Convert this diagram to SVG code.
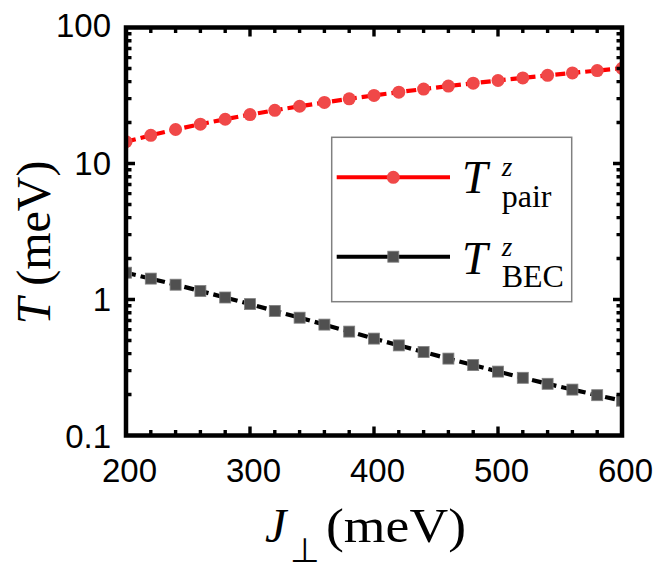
<svg xmlns="http://www.w3.org/2000/svg" xmlns:xlink="http://www.w3.org/1999/xlink" width="664" height="568" viewBox="0 0 664 568">
<style>
.tick{stroke:#000;stroke-width:3.4;fill:none}
.frame{stroke:#000;stroke-width:4.5;fill:none}
.num{font-family:"Liberation Sans",Arial,sans-serif;font-size:33px;fill:#000}
.ser{font-family:"Liberation Serif","Times New Roman",serif;fill:#000}
.it{font-style:italic}
.redline{stroke:#ff0000;stroke-width:4.2;fill:none;stroke-dasharray:10 5}
.blkline{stroke:#000;stroke-width:4.2;fill:none;stroke-dasharray:10 5}
.rdot{fill:#f04848}
.bsq{fill:#505050;stroke:#808080;stroke-width:0.8}
</style>
<defs>
<clipPath id="plotclip"><rect x="126" y="27.5" width="496" height="408"/></clipPath>
<circle id="mc" r="6.5" class="rdot"/>
<rect id="ms" x="-5.5" y="-5.5" width="11" height="11" class="bsq"/>
</defs>
<rect width="664" height="568" fill="#fff"/>
<g id="connectors" clip-path="url(#plotclip)">
<g id="series-pair">
<polyline class="redline" points="126,141.7 150.8,135.33 175.6,129.52 200.4,124.18 225.2,119.23 250,114.62 274.8,110.31 299.6,106.26 324.4,102.44 349.2,98.83 374,95.40 398.8,92.14 423.6,89.04 448.4,86.07 473.2,83.22 498,80.50 522.8,77.88 547.6,75.36 572.4,72.93 597.2,70.58 622,68.32"/>
<use xlink:href="#mc" x="126" y="141.7"/><use xlink:href="#mc" x="150.8" y="135.33"/><use xlink:href="#mc" x="175.6" y="129.52"/><use xlink:href="#mc" x="200.4" y="124.18"/><use xlink:href="#mc" x="225.2" y="119.23"/><use xlink:href="#mc" x="250" y="114.62"/><use xlink:href="#mc" x="274.8" y="110.31"/><use xlink:href="#mc" x="299.6" y="106.26"/><use xlink:href="#mc" x="324.4" y="102.44"/><use xlink:href="#mc" x="349.2" y="98.83"/><use xlink:href="#mc" x="374" y="95.40"/><use xlink:href="#mc" x="398.8" y="92.14"/><use xlink:href="#mc" x="423.6" y="89.04"/><use xlink:href="#mc" x="448.4" y="86.07"/><use xlink:href="#mc" x="473.2" y="83.22"/><use xlink:href="#mc" x="498" y="80.50"/><use xlink:href="#mc" x="522.8" y="77.88"/><use xlink:href="#mc" x="547.6" y="75.36"/><use xlink:href="#mc" x="572.4" y="72.93"/><use xlink:href="#mc" x="597.2" y="70.58"/><use xlink:href="#mc" x="622" y="68.32"/>
</g>
<g id="series-bec">
<polyline class="blkline" points="126,272.7 150.8,278.6 175.6,284.7 200.4,291.0 225.2,297.5 250,304.1 274.8,310.9 299.6,317.7 324.4,324.6 349.2,331.6 374,338.6 398.8,345.4 423.6,352.0 448.4,358.6 473.2,365.1 498,371.6 522.8,377.8 547.6,383.8 572.4,389.6 597.2,395.2 622,400.7"/>
<use xlink:href="#ms" x="126" y="272.7"/><use xlink:href="#ms" x="150.8" y="278.6"/><use xlink:href="#ms" x="175.6" y="284.7"/><use xlink:href="#ms" x="200.4" y="291.0"/><use xlink:href="#ms" x="225.2" y="297.5"/><use xlink:href="#ms" x="250" y="304.1"/><use xlink:href="#ms" x="274.8" y="310.9"/><use xlink:href="#ms" x="299.6" y="317.7"/><use xlink:href="#ms" x="324.4" y="324.6"/><use xlink:href="#ms" x="349.2" y="331.6"/><use xlink:href="#ms" x="374" y="338.6"/><use xlink:href="#ms" x="398.8" y="345.4"/><use xlink:href="#ms" x="423.6" y="352.0"/><use xlink:href="#ms" x="448.4" y="358.6"/><use xlink:href="#ms" x="473.2" y="365.1"/><use xlink:href="#ms" x="498" y="371.6"/><use xlink:href="#ms" x="522.8" y="377.8"/><use xlink:href="#ms" x="547.6" y="383.8"/><use xlink:href="#ms" x="572.4" y="389.6"/><use xlink:href="#ms" x="597.2" y="395.2"/><use xlink:href="#ms" x="622" y="400.7"/>
</g>
</g>
<g id="legend">
<rect x="331.7" y="137.3" width="240" height="164.4" fill="#fff" stroke="#808080" stroke-width="1.5"/>
<line x1="336.7" y1="177.3" x2="450" y2="177.3" stroke="#ff0000" stroke-width="4"/>
<use xlink:href="#mc" x="393.3" y="177.3"/>
<line x1="336.7" y1="256.7" x2="450" y2="256.7" stroke="#000" stroke-width="4"/>
<use xlink:href="#ms" x="393.3" y="256.7"/>
<text class="ser"><tspan class="it" x="462" y="192.7" font-size="46">T</tspan><tspan class="it" x="501.7" y="175.5" font-size="27">z</tspan><tspan x="501.7" y="207.3" font-size="32">pair</tspan></text>
<text class="ser"><tspan class="it" x="462" y="274" font-size="46">T</tspan><tspan class="it" x="501.7" y="255.5" font-size="27">z</tspan><tspan x="501.7" y="286.7" font-size="32">BEC</tspan></text>
</g>
<g id="axes">
<rect class="frame" x="126" y="27.5" width="496" height="408"/>
<path class="tick" d="M126 299.5H135M126 163.5H135M622 299.5H613M622 163.5H613M250 435.5V426.5M374 435.5V426.5M498 435.5V426.5M250 27.5V36.5M374 27.5V36.5M498 27.5V36.5"/>
<path class="tick" d="M126 394.56H131.5M126 370.61H131.5M126 353.62H131.5M126 340.44H131.5M126 329.67H131.5M126 320.57H131.5M126 312.68H131.5M126 305.72H131.5M126 258.56H131.5M126 234.61H131.5M126 217.62H131.5M126 204.44H131.5M126 193.67H131.5M126 184.57H131.5M126 176.68H131.5M126 169.72H131.5M126 122.56H131.5M126 98.61H131.5M126 81.62H131.5M126 68.44H131.5M126 57.67H131.5M126 48.57H131.5M126 40.68H131.5M126 33.72H131.5"/>
<path class="tick" d="M622 394.56H616.5M622 370.61H616.5M622 353.62H616.5M622 340.44H616.5M622 329.67H616.5M622 320.57H616.5M622 312.68H616.5M622 305.72H616.5M622 258.56H616.5M622 234.61H616.5M622 217.62H616.5M622 204.44H616.5M622 193.67H616.5M622 184.57H616.5M622 176.68H616.5M622 169.72H616.5M622 122.56H616.5M622 98.61H616.5M622 81.62H616.5M622 68.44H616.5M622 57.67H616.5M622 48.57H616.5M622 40.68H616.5M622 33.72H616.5"/>
<path class="tick" d="M150.8 435.5V430M175.6 435.5V430M200.4 435.5V430M225.2 435.5V430M274.8 435.5V430M299.6 435.5V430M324.4 435.5V430M349.2 435.5V430M398.8 435.5V430M423.6 435.5V430M448.4 435.5V430M473.2 435.5V430M522.8 435.5V430M547.6 435.5V430M572.4 435.5V430M597.2 435.5V430"/>
<path class="tick" d="M150.8 27.5V33M175.6 27.5V33M200.4 27.5V33M225.2 27.5V33M274.8 27.5V33M299.6 27.5V33M324.4 27.5V33M349.2 27.5V33M398.8 27.5V33M423.6 27.5V33M448.4 27.5V33M473.2 27.5V33M522.8 27.5V33M547.6 27.5V33M572.4 27.5V33M597.2 27.5V33"/>
</g>
<g id="tick-labels">
<text class="num" x="111" y="37.3" text-anchor="end">100</text>
<text class="num" x="111" y="174.8" text-anchor="end">10</text>
<text class="num" x="111" y="311.3" text-anchor="end">1</text>
<text class="num" x="111" y="447.5" text-anchor="end">0.1</text>
<text class="num" x="129.5" y="481.7" text-anchor="middle">200</text>
<text class="num" x="253.5" y="481.7" text-anchor="middle">300</text>
<text class="num" x="377.5" y="481.7" text-anchor="middle">400</text>
<text class="num" x="501.5" y="481.7" text-anchor="middle">500</text>
<text class="num" x="625.5" y="481.7" text-anchor="middle">600</text>
</g>
<g id="axis-titles">
<text class="ser" transform="translate(50,242.5) rotate(-90)" text-anchor="middle" font-size="48"><tspan class="it">T</tspan> (meV)</text>
<text class="ser"><tspan class="it" x="265" y="542" font-size="48">J</tspan><tspan x="290" y="562" font-size="34">⊥</tspan><tspan x="326" y="542" font-size="48" textLength="140" lengthAdjust="spacingAndGlyphs">(meV)</tspan></text>
</g>
</svg>
